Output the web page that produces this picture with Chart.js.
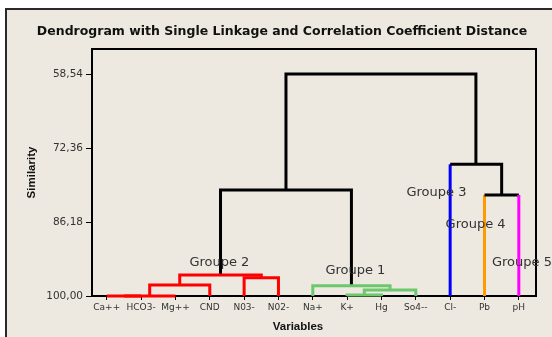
<!DOCTYPE html>
<html>
<head>
<meta charset="utf-8">
<script src="https://cdn.jsdelivr.net/npm/chart.js@4/dist/chart.umd.min.js"></script>
<style>
  html, body { margin: 0; padding: 0; background: #fff; }
  #wrap { position: relative; width: 552px; height: 337px; overflow: hidden; background: #fff; }
  #frame { position: absolute; left: 5px; top: 8px; right: -10px; bottom: -10px;
           background: #EDE9E0; border-left: 2px solid #2a2a2a; border-top: 2px solid #2a2a2a; }
  canvas { position: absolute; left: 0; top: 0; }
</style>
</head>
<body>
<div id="wrap"><div id="frame"></div><canvas id="c" width="552" height="337"></canvas></div>
<script>
// Leaves of the dendrogram, in display order
const variables = ['Ca++', 'HCO3-', 'Mg++', 'CND', 'N03-', 'N02-', 'Na+', 'K+', 'Hg', 'So4--', 'Cl-', 'Pb', 'pH'];
const variableGroup = [2, 2, 2, 2, 2, 2, 1, 1, 1, 1, 3, 4, 5];

// Merge steps: left / right member (a variable name or 'm<k>' for the k-th merge) and similarity level
const mergeLeft  = ['Ca++',  'm0',   'K+', 'm2',    'Na+', 'm1',  'N03-', 'm5', 'Pb', 'm7', 'Cl-', 'm9'];
const mergeRight = ['HCO3-', 'Mg++', 'Hg', 'So4--', 'm3',  'CND', 'N02-', 'm6', 'pH', 'm4', 'm8',  'm10'];
const mergeSimilarity = [100.00, 100.00, 99.80, 98.88, 98.08, 97.95, 96.58, 96.08, 81.14, 80.21, 75.41, 58.54];

const similarityTicks = [58.54, 72.36, 86.18, 100.00];

// Group captions and where they sit (leaf index, similarity)
const groupNames  = ['Groupe 1', 'Groupe 2', 'Groupe 3', 'Groupe 4', 'Groupe 5'];
const groupLabelX = [8.24, 4.28, 10.60, 11.74, 13.09];
const groupLabelY = [95.28, 93.84, 80.63, 86.74, 93.71];

const groupColors = { 1: '#6CC86C', 2: '#FF0000', 3: '#0000FF', 4: '#FF9A00', 5: '#FF00FF' };
const LINK_BLACK = '#000000';

// Build node positions from the merge structure
const nodes = {};
variables.forEach((v, i) => {
  nodes[v] = { x: i + 1, y: 100, groups: new Set([variableGroup[i]]), leaf: true };
});
const datasets = [];
mergeLeft.forEach((ln, k) => {
  const L = nodes[ln], R = nodes[mergeRight[k]], s = mergeSimilarity[k];
  const groups = new Set([...L.groups, ...R.groups]);
  const pure = groups.size === 1;
  const own = pure ? groupColors[[...groups][0]] : LINK_BLACK;
  const legColor = c => pure ? own : (c.leaf ? groupColors[[...c.groups][0]] : LINK_BLACK);
  const segColors = [legColor(L), own, legColor(R)];
  nodes['m' + k] = { x: (L.x + R.x) / 2, y: s, groups, leaf: false };
  datasets.push({
    data: [{ x: L.x, y: L.y }, { x: L.x, y: s }, { x: R.x, y: s }, { x: R.x, y: R.y }],
    borderColor: own,
    segment: { borderColor: ctx => segColors[ctx.p0DataIndex] },
    borderWidth: 3,
    borderJoinStyle: 'miter',
    pointRadius: 0,
    pointHoverRadius: 0,
    tension: 0,
    fill: false,
    clip: false
  });
});

const decorations = {
  id: 'decorations',
  beforeDatasetsDraw(chart) {
    const { ctx, chartArea: a } = chart;
    ctx.save();
    ctx.strokeStyle = '#000';
    ctx.lineWidth = 2;
    ctx.strokeRect(a.left, a.top, a.right - a.left, a.bottom - a.top);
    ctx.restore();
  },
  afterDatasetsDraw(chart) {
    const { ctx } = chart;
    const xs = chart.scales.x, ys = chart.scales.y;
    ctx.save();
    ctx.textAlign = 'center';
    ctx.textBaseline = 'middle';
    ctx.fillStyle = '#333';
    ctx.font = '13px "DejaVu Sans"';
    groupNames.forEach((g, i) => {
      ctx.fillText(g, xs.getPixelForValue(groupLabelX[i]), ys.getPixelForValue(groupLabelY[i]));
    });
    ctx.fillStyle = '#111';
    ctx.font = 'bold 12.5px "DejaVu Sans"';
    ctx.fillText('Dendrogram with Single Linkage and Correlation Coefficient Distance', 282, 32);
    ctx.font = 'bold 11.5px "Liberation Sans"';
    ctx.fillText('Variables', 298, 327);
    ctx.restore();
  }
};

new Chart(document.getElementById('c'), {
  type: 'line',
  data: { datasets },
  options: {
    responsive: false,
    animation: false,
    events: [],
    layout: { padding: { left: 0, right: 16, top: 49, bottom: 0 } },
    plugins: { legend: { display: false }, tooltip: { enabled: false }, title: { display: false } },
    scales: {
      x: {
        type: 'linear',
        min: 0.57,
        max: 13.5,
        afterBuildTicks: s => { s.ticks = variables.map((_, i) => ({ value: i + 1 })); },
        afterFit: s => { s.height = 41; },
        ticks: {
          callback: v => variables[Math.round(v) - 1],
          autoSkip: false, maxRotation: 0, minRotation: 0,
          font: { family: '"DejaVu Sans"', size: 9 }, color: '#333', padding: 2
        },
        grid: { drawOnChartArea: false, tickLength: 4, color: '#000', tickWidth: 1 },
        border: { color: '#000', width: 2 }
      },
      y: {
        type: 'linear',
        reverse: true,
        min: 53.87,
        max: 100,
        afterBuildTicks: s => { s.ticks = similarityTicks.map(v => ({ value: v })); },
        afterFit: s => { s.width = 92; },
        ticks: {
          callback: v => v.toFixed(2).replace('.', ','),
          font: { family: '"DejaVu Sans"', size: 10.5 }, color: '#333', padding: 3
        },
        grid: { drawOnChartArea: false, tickLength: 6, color: '#000', tickWidth: 1 },
        border: { color: '#000', width: 2 },
        title: {
          display: true, text: 'Similarity', color: '#111',
          font: { family: '"Liberation Sans"', size: 11.5, weight: 'bold' },
          padding: { top: 25, bottom: 0 }
        }
      }
    }
  },
  plugins: [decorations]
});
</script>
</body>
</html>
